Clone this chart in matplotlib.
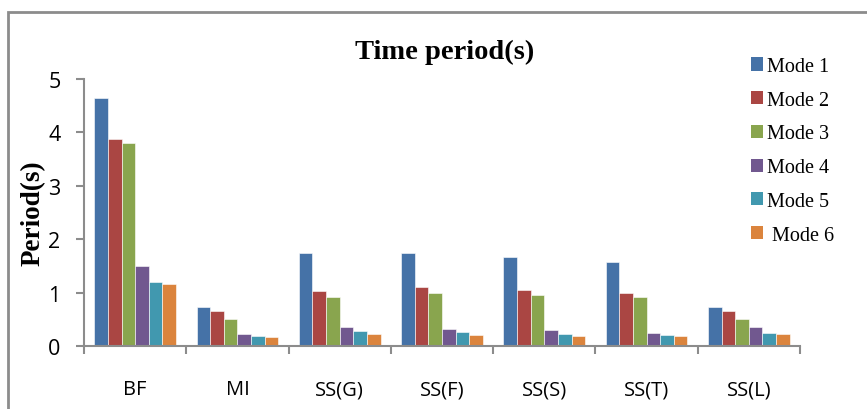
import matplotlib.pyplot as plt
import numpy as np
from matplotlib.patches import Rectangle

categories = ['BF', 'MI', 'SS(G)', 'SS(F)', 'SS(S)', 'SS(T)', 'SS(L)']
modes = ['Mode 1', 'Mode 2', 'Mode 3', 'Mode 4', 'Mode 5', ' Mode 6']
mode1 = [4.64, 0.73, 1.74, 1.75, 1.66, 1.57, 0.73]
mode2 = [3.88, 0.66, 1.03, 1.10, 1.04, 0.99, 0.65]
mode3 = [3.80, 0.51, 0.92, 0.99, 0.96, 0.92, 0.50]
mode4 = [1.50, 0.22, 0.36, 0.32, 0.29, 0.25, 0.35]
mode5 = [1.19, 0.19, 0.28, 0.26, 0.23, 0.20, 0.24]
mode6 = [1.17, 0.17, 0.23, 0.20, 0.18, 0.18, 0.23]
colors = ['#4572A7', '#AA4643', '#89A54E', '#71588F', '#4198AF', '#DB843D']

series = [mode1, mode2, mode3, mode4, mode5, mode6]

fig = plt.figure(figsize=(8.67, 4.10), dpi=100)
ax = fig.add_axes([0.0969, 0.1537, 0.8258, 0.6512])

# outer chart border
fig.patches.append(Rectangle((8 / 867, -0.05), 1.1, 1 - 13 / 410 + 0.05,
                             transform=fig.transFigure, fill=False,
                             edgecolor='#8c8c8c', linewidth=2))

x = np.arange(len(categories))
w = 0.8 / len(series)
for i, (vals, c, lab) in enumerate(zip(series, colors, modes)):
    ax.bar(x - 0.4 + w * (i + 0.5), vals, width=w, color=c, label=lab,
           edgecolor='white', linewidth=0.4)

ax.set_xlim(-0.5, len(categories) - 0.5)
ax.set_ylim(0, 5)
ax.set_yticks(range(6))
ax.set_yticklabels([str(v) for v in range(6)], fontsize=15.5, family='Open Sans')

ax.set_xticks(np.arange(len(categories) + 1) - 0.5)
ax.set_xticklabels([])
ax.set_xticks(x, minor=True)
ax.set_xticklabels(categories, minor=True, fontsize=14.5, family='Open Sans')
ax.tick_params(axis='x', which='major', length=6, color='#8c8c8c', width=1.5)
ax.tick_params(axis='x', which='minor', length=0, pad=24)
ax.tick_params(axis='y', length=6, color='#8c8c8c', width=1.5, pad=11)

for s in ['top', 'right']:
    ax.spines[s].set_visible(False)
for s in ['left', 'bottom']:
    ax.spines[s].set_color('#8c8c8c')
    ax.spines[s].set_linewidth(1.5)

fig.text(0.513, 0.873, 'Time period(s)', ha='center', va='center',
         fontsize=20.5, fontweight='bold', family='Liberation Serif')
ax.set_ylabel('Period(s)', fontsize=19.5, fontweight='bold', family='Liberation Serif')
ax.yaxis.set_label_coords(-0.054, 0.5)

leg = ax.legend(loc='upper left', bbox_to_anchor=(0.906, 1.15), frameon=False,
                prop={'family': 'Liberation Serif', 'size': 14.5},
                handlelength=0.62, handleheight=0.62, handletextpad=0.2,
                labelspacing=0.73)
for h in leg.legend_handles:
    h.set_linewidth(0)

fig.savefig('out.png', dpi=100)
